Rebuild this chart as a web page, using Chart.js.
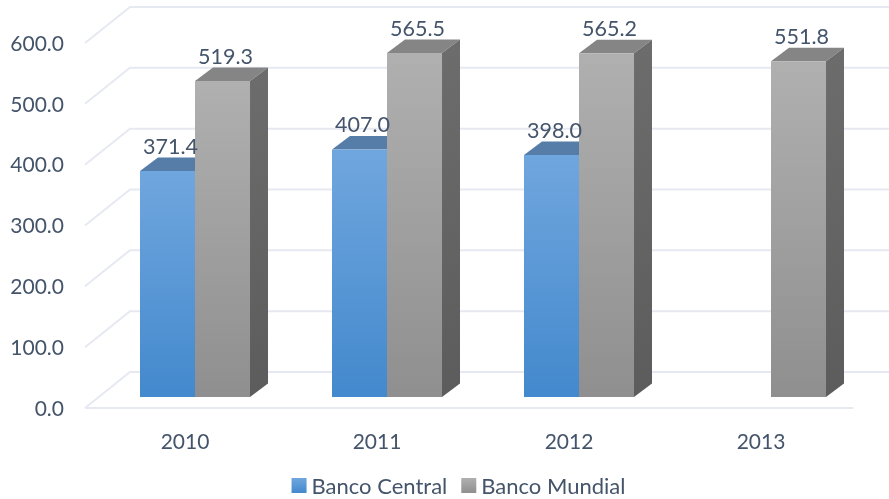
<!DOCTYPE html>
<html>
<head>
<meta charset="utf-8">
<style>
  html, body { margin: 0; padding: 0; background: #fff; }
  #wrap { width: 889px; height: 499px; }
  #chart { filter: blur(0.4px); }
</style>
<script src="https://cdn.jsdelivr.net/npm/chart.js@4/dist/chart.umd.min.js"></script>
</head>
<body>
<div id="wrap"><canvas id="chart" width="889" height="499"></canvas></div>
<script>
const years = ["2010", "2011", "2012", "2013"];
const bancoCentral = [371.4, 407.0, 398.0, null];
const bancoMundial = [519.3, 565.5, 565.2, 551.8];

const TEXT_COLOR = "#44546a";
const GRID_COLOR = "#e6e9f1";
const FONT = "Lato";

// bar depth and floor depth of the fake 3D box
const BAR_DX = 18, BAR_DY = -13.5;
const FRONT_DX = -14, FRONT_DY = 11;
const BACK_DX = 31, BACK_DY = -25;

const faces = [
  { top: "#567ca8", side: "#3f6c9e", light: "#70a6de", dark: "#4389cd" },
  { top: "#858585", side: "#6c6c6c", light: "#b0b0b0", dark: "#8f8f8f" },
];

function barGradient(ctx, face) {
  const { chart, raw } = ctx;
  if (!chart.chartArea || raw == null) return face.dark;
  const y = chart.scales.y;
  const g = chart.ctx.createLinearGradient(0, y.getPixelForValue(raw), 0, y.getPixelForValue(0));
  g.addColorStop(0, face.light);
  g.addColorStop(1, face.dark);
  return g;
}

function poly(c, pts, fill) {
  c.fillStyle = fill;
  c.beginPath();
  pts.forEach((p, i) => (i ? c.lineTo(p[0], p[1]) : c.moveTo(p[0], p[1])));
  c.closePath();
  c.fill();
}

// ---------------------
// BACK WALL + FLOOR LINES
// ---------------------
const wallPlugin = {
  id: "wall",
  beforeDatasetsDraw(chart) {
    const { ctx: c, scales: { x, y }, width } = chart;
    c.save();
    c.strokeStyle = GRID_COLOR;
    c.lineWidth = 2;
    y.ticks.forEach((t) => {
      const py = y.getPixelForValue(t.value);
      c.beginPath();
      c.moveTo(x.left + FRONT_DX, py + FRONT_DY);
      c.lineTo(x.left + BACK_DX, py + BACK_DY);
      c.lineTo(Math.min(x.right + BACK_DX, width), py + BACK_DY);
      if (t.value === 0) {
        c.moveTo(x.left + FRONT_DX, py + FRONT_DY);
        c.lineTo(x.right + FRONT_DX, py + FRONT_DY);
      }
      c.stroke();
    });

    // top and side faces of each bar go under the flat fronts
    chart.data.datasets.forEach((ds, di) => {
      const face = faces[di];
      chart.getDatasetMeta(di).data.forEach((el, i) => {
        if (ds.data[i] == null) return;
        const l = el.x - el.width / 2, r = el.x + el.width / 2;
        poly(c, [[l, el.y], [r, el.y], [r + BAR_DX, el.y + BAR_DY], [l + BAR_DX, el.y + BAR_DY]], face.top);
        const g = c.createLinearGradient(0, el.y, 0, el.base);
        g.addColorStop(0, face.side);
        g.addColorStop(1, "#5c5c5c");
        poly(c, [[r, el.y], [r + BAR_DX, el.y + BAR_DY], [r + BAR_DX, el.base + BAR_DY], [r, el.base]], g);
      });
    });
    c.restore();
  },
};

// ---------------------
// VALUE LABELS + LEGEND
// ---------------------
const labelPlugin = {
  id: "valueLabels",
  afterDatasetsDraw(chart) {
    const c = chart.ctx;
    c.save();
    c.font = `21.5px ${FONT}`;
    c.fillStyle = TEXT_COLOR;
    c.textAlign = "center";
    c.textBaseline = "middle";
    chart.data.datasets.forEach((ds, di) => {
      chart.getDatasetMeta(di).data.forEach((el, i) => {
        if (ds.data[i] == null) return;
        c.fillText(ds.data[i].toFixed(1), el.x + 3, el.y - 24);
      });
    });
    c.restore();
  },
  // the built-in legend cannot do the tight box/text gap, so it is drawn here
  afterDraw(chart) {
    const c = chart.ctx;
    const boxSize = 15, textGap = 5, itemGap = 14;
    c.save();
    c.font = `22px ${FONT}`;
    c.textBaseline = "middle";
    const names = chart.data.datasets.map((ds) => ds.label);
    const widths = names.map((n) => c.measureText(n).width);
    const total = widths.reduce((a, b) => a + b + boxSize + textGap, 0) + itemGap;
    let px = 458.5 - total / 2;
    names.forEach((name, i) => {
      const g = c.createLinearGradient(0, 478, 0, 493);
      g.addColorStop(0, faces[i].light);
      g.addColorStop(1, faces[i].dark);
      c.fillStyle = g;
      c.fillRect(px, 478, boxSize, boxSize);
      c.fillStyle = TEXT_COLOR;
      c.fillText(name, px + boxSize + textGap, 487);
      px += boxSize + textGap + widths[i] + itemGap;
    });
    c.restore();
  },
};

new Chart(document.getElementById("chart"), {
  type: "bar",
  data: {
    labels: years,
    datasets: [
      { label: "Banco Central", data: bancoCentral, backgroundColor: (ctx) => barGradient(ctx, faces[0]) },
      { label: "Banco Mundial", data: bancoMundial, backgroundColor: (ctx) => barGradient(ctx, faces[1]) },
    ],
  },
  options: {
    responsive: false,
    animation: false,
    layout: { autoPadding: false, padding: { top: 32, right: 22, left: 0, bottom: 0 } },
    datasets: { bar: { categoryPercentage: 0.573, barPercentage: 1 } },
    plugins: {
      tooltip: { enabled: false },
      legend: { display: false },
    },
    scales: {
      x: {
        grid: { display: false, drawTicks: false },
        border: { display: false },
        afterFit(s) { s.height = 102; },
        ticks: { padding: 33, labelOffset: -10, color: TEXT_COLOR, font: { family: FONT, size: 21 } },
      },
      y: {
        min: 0,
        max: 600,
        grid: { display: false, drawTicks: false },
        border: { display: false },
        // tick padding also ends up in the vertical margins otherwise
        afterFit(s) { s.width = 99; s.paddingTop = 0; s.paddingBottom = 0; },
        ticks: {
          stepSize: 100,
          padding: 35,
          labelOffset: 12,
          color: TEXT_COLOR,
          font: { family: FONT, size: 21 },
          callback: (v) => v.toFixed(1),
        },
      },
    },
  },
  plugins: [wallPlugin, labelPlugin],
});
</script>
</body>
</html>
